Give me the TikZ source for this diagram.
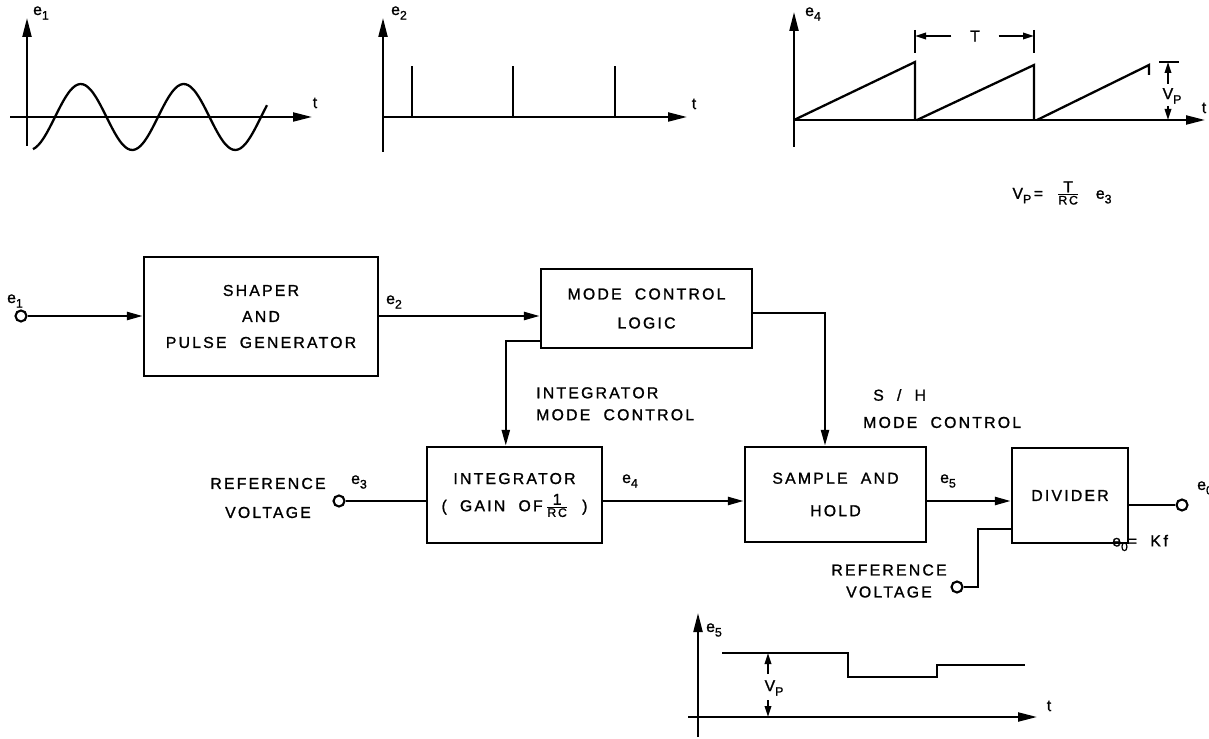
\documentclass[tikz,border=0pt]{standalone}
\usepackage{fontspec}
\setmainfont[LetterSpace=14,WordSpace=2.0,FakeBold=1.2]{Liberation Sans}
\usetikzlibrary{arrows.meta, positioning, calc}

\newcommand{\sig}[2]{#1\raisebox{-0.55ex}{\scriptsize #2}}
\newcommand{\frc}[2]{\ensuremath{\frac{\mbox{\small #1}}{\mbox{\scriptsize #2}}}}

\begin{document}
\begin{tikzpicture}[x=0.02cm, y=-0.02cm,
    line width=1.4pt,
    font=\fontsize{9}{14}\selectfont,
    block/.style={rectangle, draw, line width=1.4pt, align=center, inner sep=0pt},
    term/.style={circle, draw, line width=1.2pt, minimum size=0.22cm, inner sep=0pt},
    tag/.style={inner sep=0pt},
    arrow/.style={-{Triangle[length=3.2mm, width=1.6mm]}},
    axis/.style={-{Triangle[length=3.8mm, width=1.8mm]}, line width=1.2pt},
    dim/.style={-{Triangle[length=2.2mm, width=1.3mm]}, line width=1pt}
]
\useasboundingbox (0,0) rectangle (1209,739);

% waveform e1
\draw[axis] (27,146) -- (27,18);
\draw[axis] (10,117) -- (312,117);
\draw[line width=1.3pt] plot[domain=33:267, samples=90, smooth] (\x, {117-33*sin(3.4951*(\x-55))});
\node[tag] (g1y) at (41,13) {\sig{e}{1}};
\node[tag] (g1t) at (315,103) {t};

% waveform e2
\draw[axis] (383,152) -- (383,18);
\draw[axis] (383,117) -- (687,117);
\foreach \p in {412,513,615}
    \draw[line width=1.3pt] (\p,117) -- (\p,66);
\node[tag] (g2y) at (399,13) {\sig{e}{2}};
\node[tag] (g2t) at (694,104) {t};

% waveform e4
\draw[axis] (794,147) -- (794,12);
\draw[axis] (794,120) -- (1205,120);
\draw[line width=1.3pt] (794,120) -- (915,62) -- (915,120)
    (917,120) -- (1034,65) -- (1034,120)
    (1037,120) -- (1149,65) -- (1149,75);
\node[tag] (g4y) at (813,14) {\sig{e}{4}};
\node[tag] (g4t) at (1204,108) {t};
\draw[line width=1pt] (915,30) -- (915,53) (1034,30) -- (1034,53);
\node[tag] (per) at (975,36) {T};
\draw[dim] ([xshift=-0.35cm]per.west) -- (915,36);
\draw[dim] ([xshift=0.35cm]per.east) -- (1034,36);
\draw[line width=1pt] (1159,62) -- (1179,62);
\node[tag] (vp4) at (1172,96) {\sig{V}{P}};
\draw[dim] (1168,84) -- (1168,62);
\draw[dim] (1168,106) -- (1168,120);
\node[tag] (law) at (1062,193) {\sig{V}{P}\,= \frc{T}{RC}\, \sig{e}{3}};

% blocks
\node[block, minimum width=4.68cm, minimum height=2.38cm,
      font=\fontsize{9}{14.8}\selectfont] (shaper) at (261,316.5) {SHAPER\\AND\\PULSE GENERATOR};
\node[block, minimum width=4.22cm, minimum height=1.58cm,
      font=\fontsize{9}{16.5}\selectfont] (mode) at (646.5,308.5) {MODE CONTROL\\LOGIC};
\node[block, minimum width=3.5cm, minimum height=1.92cm,
      font=\fontsize{9}{15.5}\selectfont] (integ) at (514.5,495) {INTEGRATOR\\( GAIN OF\,\frc{1}{RC} )};
\node[block, minimum width=3.62cm, minimum height=1.9cm,
      font=\fontsize{9}{18.5}\selectfont] (sample) at (835.5,494.5) {SAMPLE AND\\HOLD};
\node[block, minimum width=2.32cm, minimum height=1.9cm] (divider) at (1070,495.5) {DIVIDER};

% terminals
\node[term] (in1) at (21,316) {};
\node[term] (in3) at (339,501) {};
\node[term] (in4) at (957,587) {};
\node[term] (out) at (1182,505) {};

% signal path
\draw[arrow] (in1) -- (in1 -| shaper.west);
\draw[arrow] (in1 -| shaper.east) -- (in1 -| mode.west);
\draw[arrow] ($(mode.south west)+(0,-8)$) -| ($(integ.north west)+(80,0)$);
\draw[arrow] ($(mode.east)+(0,4.5)$) -| ($(sample.north)+(-10.5,0)$);
\draw (in3) -- (in3 -| integ.west);
\draw[arrow] (integ.east |- in3) -- (sample.west |- in3);
\draw[arrow] (sample.east |- in3) -- (divider.west |- in3);
\draw (divider.east |- out) -- (out);
\draw (in4) -- ++(21,0) |- ($(divider.west)+(0,33.5)$);

% labels
\node[tag] (le1) at (15,301) {\sig{e}{1}};
\node[tag] (le2) at (394,302) {\sig{e}{2}};
\node[tag] (le3) at (359,482) {\sig{e}{3}};
\node[tag] (le4) at (630,481) {\sig{e}{4}};
\node[tag] (le5) at (948,481) {\sig{e}{5}};
\node[tag, anchor=west] (le0) at (1196,488) {\sig{e}{0}};
\node[tag, anchor=west] (eq0) at (1111,543) {\sig{e}{0}= K\,f};
\node[tag, align=center, font=\fontsize{9}{16.5}\selectfont] (ref1) at (268,498) {REFERENCE\\VOLTAGE};
\node[tag, align=center, font=\fontsize{9}{12.5}\selectfont] (ref2) at (889,581) {REFERENCE\\VOLTAGE};
\node[tag, align=left, anchor=north west, font=\fontsize{9}{12.5}\selectfont] (ictl) at (535,386) {INTEGRATOR\\MODE CONTROL};
\node[tag, align=left, anchor=north west, font=\fontsize{9}{15.5}\selectfont] (shctl) at (862,388) {\hspace{0.2cm}S / H\\MODE CONTROL};

% waveform e5
\draw[axis] (698,737) -- (698,613);
\draw[axis] (688,717) -- (1037,717);
\draw[line width=1.3pt] (722,653) -- (848,653) -- (848,677) -- (937,677) -- (937,665) -- (1025,665);
\node[tag] (g5y) at (714,630) {\sig{e}{5}};
\node[tag] (g5t) at (1049,706) {t};
\node[tag] (vp5) at (774,688) {\sig{V}{P}};
\draw[dim] (768,674) -- (768,653);
\draw[dim] (768,700) -- (768,717);
\end{tikzpicture}
\end{document}
